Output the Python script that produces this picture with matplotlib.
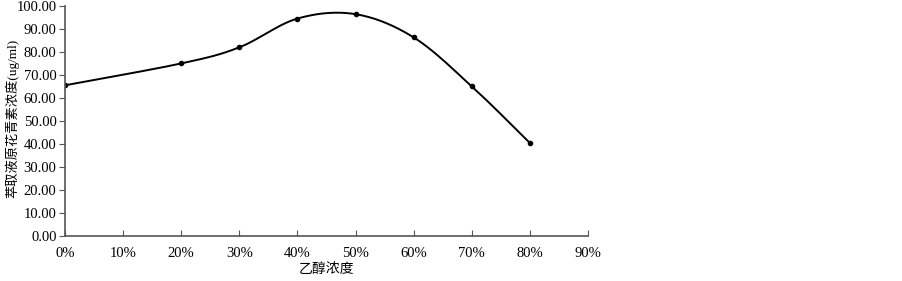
import numpy as np
import matplotlib
matplotlib.use('Agg')
import matplotlib.pyplot as plt

plt.rcParams['font.family'] = ['Liberation Serif', 'Noto Sans CJK SC']

# data
ethanol = [0, 20, 30, 40, 50, 60, 70, 80]          # %
conc = [65.5, 75.0, 82.0, 94.5, 96.4, 86.3, 65.0, 40.4]  # ug/ml
xticks = list(range(0, 91, 10))
yticks = list(range(0, 101, 10))


def catmull_rom(xs, ys, n=40):
	# smooth line through points, like a spreadsheet "smoothed line"
	px = [xs[0]] + list(xs) + [xs[-1]]
	py = [ys[0]] + list(ys) + [ys[-1]]
	outx, outy = [], []
	t = np.linspace(0, 1, n)
	for i in range(1, len(px) - 2):
		p0, p1, p2, p3 = np.array([px[i-1], py[i-1]]), np.array([px[i], py[i]]), np.array([px[i+1], py[i+1]]), np.array([px[i+2], py[i+2]])
		for tt in t:
			pt = 0.5 * ((2*p1) + (-p0 + p2)*tt + (2*p0 - 5*p1 + 4*p2 - p3)*tt**2 + (-p0 + 3*p1 - 3*p2 + p3)*tt**3)
			outx.append(pt[0]); outy.append(pt[1])
	return outx, outy


fig = plt.figure(figsize=(9.02, 2.81), dpi=100)
ax = fig.add_axes([0.072, 0.160, 0.580, 0.819])

sx, sy = catmull_rom(ethanol, conc)
ax.plot(sx, sy, color='black', lw=1.4)
ax.plot(ethanol, conc, 'o', color='black', ms=3)

ax.set_xlim(0, 90)
ax.set_ylim(0, 100)
ax.set_xticks(xticks)
ax.set_xticklabels([f'{v}%' for v in xticks])
ax.set_yticks(yticks)
ax.set_yticklabels([f'{v:.2f}' for v in yticks])
ax.tick_params(axis='x', direction='in', length=4, color='#555555', labelsize=10.5, pad=8)
ax.tick_params(axis='y', direction='out', length=4, color='#555555', labelsize=10.5, pad=2)

for s in ['top', 'right']:
	ax.spines[s].set_visible(False)
for s in ['left', 'bottom']:
	ax.spines[s].set_color('#555555')
	ax.spines[s].set_linewidth(1.2)

fig.text(326/902, 1 - 270/281, '乙醇浓度', fontsize=10, ha='center', va='center')
fig.text(12/902, 1 - 118/281, '萃取液原花青素浓度(ug/ml)', fontsize=9.5,
	rotation=90, ha='center', va='center')

plt.savefig('out.png', dpi=100)
